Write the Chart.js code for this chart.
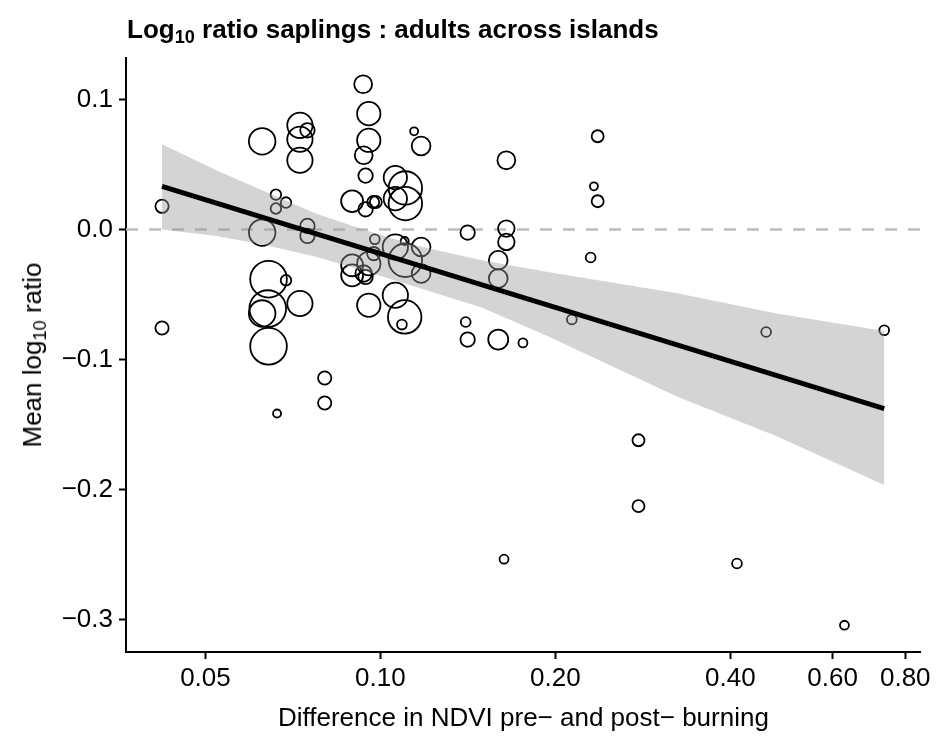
<!DOCTYPE html>
<html lang="en">
<head>
  <meta charset="UTF-8">
  <title>Log10 ratio saplings : adults across islands</title>
  <script src="https://cdn.jsdelivr.net/npm/chart.js"></script>
  <style>
    body {
      margin: 0;
      background: #fff;
      font-family: 'Liberation Sans', Arial, sans-serif;
    }

    .wrap {
      position: relative;
      width: 941px;
      height: 740px;
    }

    canvas {
      position: absolute;
      left: 0;
      top: 0;
    }

    .title {
      position: absolute;
      left: 127px;
      top: 16px;
      font-size: 26px;
      line-height: 26px;
      font-weight: bold;
      color: #000;
      white-space: nowrap;
    }

    .ytitle {
      position: absolute;
      left: 32px;
      top: 355px;
      transform: translate(-50%, -50%) rotate(-90deg);
      font-size: 26px;
      line-height: 26px;
      color: #000;
      white-space: nowrap;
    }

    sub {
      font-size: 70%;
      line-height: 0;
      vertical-align: -0.3em;
    }
  </style>
</head>
<body>

  <div class="wrap">
    <canvas id="ratioChart" width="941" height="740"></canvas>
    <div class="title">Log<sub>10</sub> ratio saplings : adults across islands</div>
    <div class="ytitle">Mean log<sub>10</sub> ratio</div>
  </div>

  <script>
    // tick values
    const xTicks = [0.05, 0.1, 0.2, 0.4, 0.6, 0.8];
    const yTicks = [-0.3, -0.2, -0.1, 0, 0.1];

    // one entry per island: NDVI difference, mean log10 ratio, adults counted
    const ndviDiff = [
      0.0934, 0.0955, 0.0955, 0.0936, 0.0943, 0.0626, 0.0727, 0.0749, 0.0727, 0.0727,
      0.1143, 0.1175, 0.1647, 0.0421, 0.0661, 0.0688, 0.0661, 0.0626, 0.0749, 0.0749,
      0.0894, 0.0943, 0.0972, 0.0982, 0.1061, 0.1104, 0.1061, 0.1104, 0.1413, 0.1647,
      0.1647, 0.1595, 0.1595, 0.0978, 0.1101, 0.1061, 0.1104, 0.1175, 0.1175, 0.0974,
      0.0955, 0.0894, 0.0894, 0.0936, 0.0943, 0.0642, 0.0688, 0.0640, 0.0626, 0.0727,
      0.0642, 0.0421, 0.1061, 0.0955, 0.1101, 0.1089, 0.1402, 0.1413, 0.1595, 0.1759,
      0.0802, 0.0802, 0.0664, 0.1632, 0.2365, 0.2330, 0.2365, 0.2300, 0.2135, 0.4610,
      0.7360, 0.2780, 0.2780, 0.4107, 0.6287
    ];

    const meanLogRatio = [
      0.1118, 0.0892, 0.0687, 0.0572, 0.0415, 0.0679, 0.0802, 0.0764, 0.0695, 0.0533,
      0.0756, 0.0643, 0.0533, 0.0179, 0.0269, 0.0208, 0.0162, -0.0023, 0.0028, -0.0049,
      0.0218, 0.0156, 0.0212, 0.0212, 0.0400, 0.0320, 0.0238, 0.0200, -0.0023, 0.0008,
      -0.0095, -0.0236, -0.0377, -0.0075, -0.0088, -0.0134, -0.0236, -0.0134, -0.0338, -0.0185,
      -0.0262, -0.0275, -0.0352, -0.0338, -0.0365, -0.0382, -0.0390, -0.0608, -0.0646, -0.0569,
      -0.0898, -0.0757, -0.0505, -0.0582, -0.0672, -0.0731, -0.0711, -0.0846, -0.0846, -0.0872,
      -0.1142, -0.1334, -0.1415, -0.2536, 0.0718, 0.0333, 0.0218, -0.0215, -0.0692, -0.0788,
      -0.0775, -0.1621, -0.2128, -0.2569, -0.3044
    ];

    const nAdults = [
      20, 34, 34, 20, 13, 44, 40, 13, 40, 40,
      4, 22, 20, 11, 7, 7, 7, 44, 13, 13,
      30, 13, 9, 9, 34, 70, 34, 70, 13, 17,
      17, 22, 22, 6, 4, 40, 70, 22, 22, 11,
      34, 30, 30, 17, 13, 84, 7, 84, 44, 40,
      84, 11, 40, 34, 70, 6, 6, 13, 25, 5,
      11, 11, 4, 5, 9, 4, 9, 6, 6, 6,
      6, 9, 9, 6, 5
    ];

    // fitted line and its confidence band
    const fitX = [0.0421, 0.736];
    const fitY = [0.0333, -0.1377];

    const bandX = [0.0421, 0.0522, 0.0636, 0.0774, 0.0943, 0.1148, 0.1493, 0.1942, 0.3242, 0.4808, 0.736];
    const bandUpper = [0.0656, 0.0456, 0.0289, 0.0123, -0.0005, -0.0121, -0.0236, -0.0326, -0.0490, -0.0646, -0.0780];
    const bandLower = [0.0000, -0.0050, -0.0120, -0.0210, -0.0320, -0.0440, -0.0600, -0.0820, -0.1286, -0.1590, -0.1965];

    const xMin = 0.0365, xMax = 0.851;
    const yMin = -0.325, yMax = 0.132;

    const points = ndviDiff.map((x, i) => ({ x: x, y: meanLogRatio[i], r: 2 * Math.sqrt(nAdults[i]) }));
    const pairs = (xs, ys) => xs.map((x, i) => ({ x: x, y: ys[i] }));

    const fmtY = v => {
      if (Math.abs(v) < 1e-9) return '0.0';
      return (v < 0 ? '\u2212' : '') + Math.abs(v).toFixed(1);
    };

    const ctx = document.getElementById('ratioChart').getContext('2d');

    new Chart(ctx, {
      type: 'bubble',
      data: {
        datasets: [
          {
            type: 'line',
            data: pairs(fitX, fitY),
            borderColor: '#000',
            borderWidth: 5,
            pointRadius: 0,
            order: 0
          },
          {
            type: 'line',
            data: pairs(bandX, bandUpper),
            borderColor: 'transparent',
            borderWidth: 0,
            pointRadius: 0,
            backgroundColor: 'rgba(153, 153, 153, 0.42)',
            fill: '+1',
            order: 1
          },
          {
            type: 'line',
            data: pairs(bandX, bandLower),
            borderColor: 'transparent',
            borderWidth: 0,
            pointRadius: 0,
            fill: false,
            order: 2
          },
          {
            data: points,
            backgroundColor: 'transparent',
            borderColor: '#000',
            borderWidth: 1.8,
            hoverRadius: 0,
            order: 3
          },
          {
            type: 'line',
            data: [{ x: xMin, y: 0 }, { x: xMax, y: 0 }],
            borderColor: '#bdbdbd',
            borderWidth: 2.5,
            borderDash: [12, 11],
            pointRadius: 0,
            order: 4
          }
        ]
      },
      options: {
        responsive: false,
        animation: false,
        devicePixelRatio: 1,
        layout: {
          padding: { top: 58, right: 6, left: 0, bottom: 0 }
        },
        plugins: {
          legend: { display: false },
          tooltip: { enabled: false }
        },
        scales: {
          x: {
            type: 'logarithmic',
            min: xMin,
            max: xMax,
            afterBuildTicks: axis => { axis.ticks = xTicks.map(v => ({ value: v })); },
            afterFit: axis => { axis.height = 88; },
            ticks: {
              callback: v => Number(v).toFixed(2),
              color: '#000',
              font: { family: "'Liberation Sans', Arial, sans-serif", size: 26 },
              padding: 4,
              maxRotation: 0,
              autoSkip: false
            },
            grid: {
              drawOnChartArea: false,
              drawTicks: true,
              tickLength: 7,
              tickWidth: 2,
              tickColor: '#000'
            },
            border: { display: true, color: '#000', width: 2 },
            title: {
              display: true,
              text: 'Difference in NDVI pre\u2212 and post\u2212 burning',
              color: '#000',
              font: { family: "'Liberation Sans', Arial, sans-serif", size: 26 },
              padding: { top: 0, bottom: 6 }
            }
          },
          y: {
            type: 'linear',
            min: yMin,
            max: yMax,
            afterBuildTicks: axis => { axis.ticks = yTicks.map(v => ({ value: v })); },
            afterFit: axis => { axis.width = 126; },
            ticks: {
              callback: v => fmtY(v),
              color: '#000',
              font: { family: "'Liberation Sans', Arial, sans-serif", size: 26 },
              padding: 6
            },
            grid: {
              drawOnChartArea: false,
              drawTicks: true,
              tickLength: 7,
              tickWidth: 2,
              tickColor: '#000'
            },
            border: { display: true, color: '#000', width: 2 }
          }
        }
      }
    });
  </script>
</body>
</html>
